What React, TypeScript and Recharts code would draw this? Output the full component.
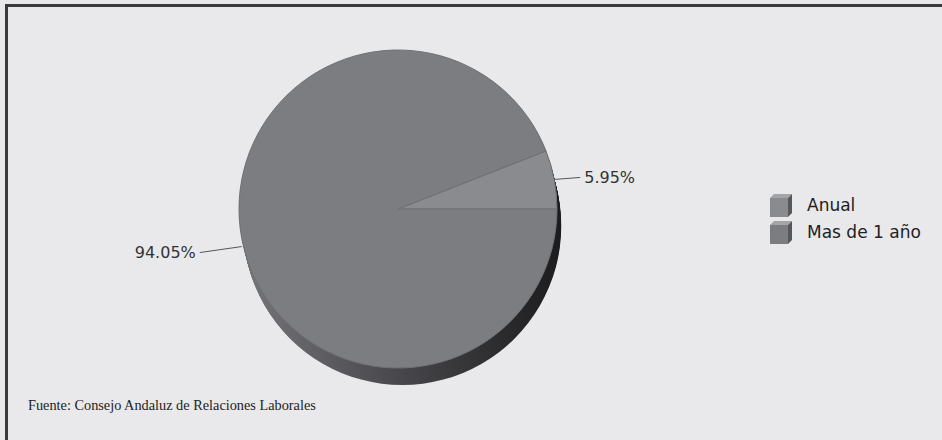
import { PieChart, Pie, Cell, Legend } from 'recharts';

const categories = ['Anual', 'Mas de 1 año'];
const shares = [5.95, 94.05];
const sliceColors = ['#8a8b8f', '#7c7d81'];
const sourceNote = 'Fuente: Consejo Andaluz de Relaciones Laborales';

const data = categories.map((name, i) => ({ name, value: shares[i] }));
const whole = [{ name: 'side', value: 1 }];

const CX = 398;
const CY = 209;
const R = 159;
const DEPTH = 17;
const layers = Array.from({ length: DEPTH }, (_, i) => DEPTH - i);
const RAD = Math.PI / 180;

const renderLabel = (p: any) => {
  const { cx, cy, midAngle, outerRadius, index } = p;
  const cos = Math.cos(-midAngle * RAD);
  const sin = Math.sin(-midAngle * RAD);
  const right = cos >= 0;
  const sx = cx + outerRadius * cos;
  const sy = cy + outerRadius * sin + (right ? 0 : 8);
  const ex = sx + (right ? 26 : -42);
  const ey = sy + (right ? -2 : 6);
  return (
    <g>
      <polyline points={`${sx},${sy} ${ex},${ey}`} stroke="#555" strokeWidth={1} fill="none" />
      <text
        x={ex + (right ? 4 : -4)}
        y={ey}
        dy="0.35em"
        textAnchor={right ? 'start' : 'end'}
        fontSize={16}
        fontFamily="DejaVu Sans, Verdana, sans-serif"
        fill="#333"
      >
        {shares[index].toFixed(2)}%
      </text>
    </g>
  );
};

function Cube({ color }: { color: string }) {
  return (
    <svg width={26} height={26} style={{ display: 'block' }}>
      <polygon points="1,6 5,2 23,2 19,6" fill="#a4a5a9" />
      <polygon points="19,6 23,2 23,21 19,25" fill="#56575b" />
      <rect x={1} y={6} width={18} height={19} fill={color} />
    </svg>
  );
}

const renderLegend = () => (
  <div style={{ fontFamily: 'DejaVu Sans, Verdana, sans-serif', fontSize: 17, color: '#222' }}>
    {categories.map((c, i) => (
      <div key={c} style={{ display: 'flex', alignItems: 'center', height: 27 }}>
        <Cube color={sliceColors[i]} />
        <span style={{ marginLeft: 12 }}>{c}</span>
      </div>
    ))}
  </div>
);

export default function App() {
  return (
    <div style={{ position: 'absolute', left: 0, top: 0, width: 942, height: 440, background: '#e9e9eb', overflow: 'hidden' }}>
      <div style={{ position: 'absolute', left: 5, top: 4, right: 0, bottom: 0, borderTop: '3px solid #3a3a3c', borderLeft: '3px solid #3a3a3c' }} />
      <div style={{ position: 'absolute', left: 0, top: 0 }}>
        <PieChart width={942} height={440} margin={{ top: 0, right: 0, bottom: 0, left: 0 }}>
          <defs>
            <linearGradient id="side" x1="0" y1="0" x2="1" y2="0">
              <stop offset="0%" stopColor="#76767a" />
              <stop offset="45%" stopColor="#4c4c50" />
              <stop offset="100%" stopColor="#1c1c1e" />
            </linearGradient>
          </defs>
          {layers.map((k) => (
            <Pie
              key={k}
              data={whole}
              dataKey="value"
              cx={CX + k * 0.25}
              cy={CY + k}
              outerRadius={R}
              startAngle={0}
              endAngle={360}
              fill="url(#side)"
              stroke="none"
              isAnimationActive={false}
              legendType="none"
            />
          ))}
          <Pie
            data={data}
            dataKey="value"
            nameKey="name"
            cx={CX}
            cy={CY}
            outerRadius={R}
            startAngle={0}
            endAngle={360}
            stroke="#707175"
            strokeWidth={1}
            label={renderLabel}
            labelLine={false}
            isAnimationActive={false}
          >
            {data.map((d, i) => (
              <Cell key={d.name} fill={sliceColors[i]} />
            ))}
          </Pie>
          <Legend
            content={renderLegend}
            layout="vertical"
            wrapperStyle={{ position: 'absolute', left: 769, top: 191, width: 170 }}
          />
        </PieChart>
      </div>
      <div style={{ position: 'absolute', left: 28, top: 397, fontFamily: 'Liberation Serif, Times New Roman, serif', fontSize: 14.3, color: '#222' }}>
        {sourceNote}
      </div>
    </div>
  );
}
